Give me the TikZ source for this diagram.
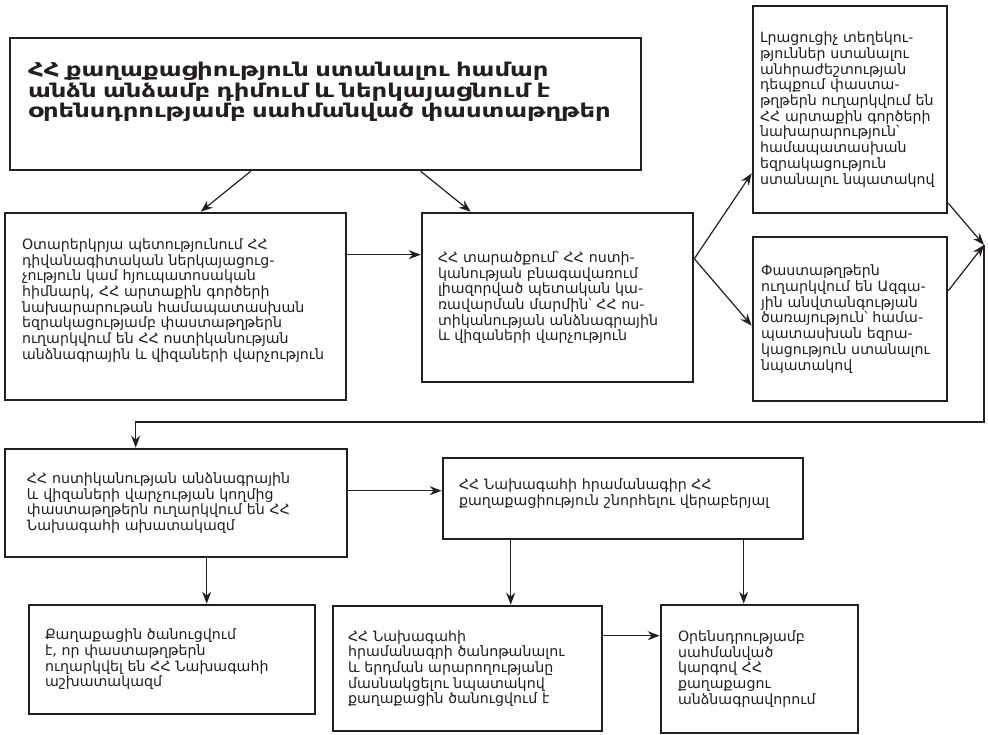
\documentclass[tikz,border=0pt]{standalone}
\usepackage{fontspec}
\setmainfont{DejaVu Sans}
\newfontfamily\titlefont{DejaVu Sans}[FakeStretch=1.28]
\usetikzlibrary{arrows.meta}
\definecolor{ink}{HTML}{231F20}
\begin{document}
\begin{tikzpicture}[x=1pt,y=-1pt,
    box/.style={draw=ink,text=ink,line width=2.6pt,align=left,inner ysep=0pt,
      font=\fontsize{14.2}{15.7}\selectfont},
    arr/.style={draw=ink,line width=1.2pt,-{Stealth[length=12pt,width=9pt]}}]
  \useasboundingbox (0,0) rectangle (988,735);

  \node[box,minimum width=631pt,minimum height=132pt,inner xsep=18pt,text width=595pt,
    font=\titlefont\fontsize{19}{20.8}\selectfont\bfseries] (apply) at (325.5,104)
    {ՀՀ քաղաքացիություն ստանալու համար\\
     անձն անձամբ դիմում և ներկայացնում է\\
     օրենսդրությամբ սահմանված փաստաթղթեր\par\vspace{24pt}};
  \node[box,minimum width=341pt,minimum height=187pt,inner xsep=17pt,text width=307pt] (foreign) at (175.5,306.5)
    {Օտարերկրյա պետությունում ՀՀ\\
     դիվանագիտական ներկայացուց-\\
     չություն կամ հյուպատոսական\\
     հիմնարկ, ՀՀ արտաքին գործերի\\
     նախարարութան համապատասխան\\
     եզրակացությամբ փաստաթղթերն\\
     ուղարկվում են ՀՀ ոստիկանության\\
     անձնագրային և վիզաների վարչություն\par\vspace{12pt}};
  \node[box,minimum width=271pt,minimum height=169pt,inner xsep=16pt,text width=239pt] (local) at (557.5,297.5)
    {ՀՀ տարածքում՝ ՀՀ ոստի-\\
     կանության բնագավառում\\
     լիազորված պետական կա-\\
     ռավարման մարմին՝ ՀՀ ոս-\\
     տիկանության անձնագրային\\
     և վիզաների վարչություն};
  \node[box,minimum width=194pt,minimum height=207pt,inner xsep=7pt,text width=180pt] (ministry) at (850,109.5)
    {Լրացուցիչ տեղեկու-\\
     թյուններ ստանալու\\
     անհրաժեշտության\\
     դեպքում փաստա-\\
     թղթերն ուղարկվում են\\
     ՀՀ արտաքին գործերի\\
     նախարարություն՝\\
     համապատասխան\\
     եզրակացություն\\
     ստանալու նպատակով};
  \node[box,minimum width=194pt,minimum height=164pt,inner xsep=8pt,text width=178pt] (security) at (850,319)
    {Փաստաթղթերն\\
     ուղարկվում են Ազգա-\\
     յին անվտանգության\\
     ծառայություն՝ համա-\\
     պատասխան եզրա-\\
     կացություն ստանալու\\
     նպատակով};
  \node[box,minimum width=342pt,minimum height=108pt,inner xsep=22pt,text width=298pt] (police) at (176,503)
    {ՀՀ ոստիկանության անձնագրային\\
     և վիզաների վարչության կողմից\\
     փաստաթղթերն ուղարկվում են ՀՀ\\
     Նախագահի ախատակազմ};
  \node[box,minimum width=360pt,minimum height=81pt,inner xsep=16pt,text width=328pt] (decree) at (623,498.5)
    {ՀՀ Նախագահի հրամանագիր ՀՀ\\
     քաղաքացիություն շնորհելու վերաբերյալ\par\vspace{10pt}};
  \node[box,minimum width=286pt,minimum height=109pt,inner xsep=16pt,text width=254pt] (notice) at (172,659.5)
    {Քաղաքացին ծանուցվում\\
     է, որ փաստաթղթերն\\
     ուղարկվել են ՀՀ Նախագահի\\
     աշխատակազմ};
  \node[box,minimum width=269pt,minimum height=125pt,inner xsep=15pt,text width=239pt] (oath) at (467.5,668.5)
    {ՀՀ Նախագահի\\
     հրամանագրի ծանոթանալու\\
     և երդման արարողությանը\\
     մասնակցելու նպատակով\\
     քաղաքացին ծանուցվում է};
  \node[box,minimum width=197pt,minimum height=128pt,inner xsep=17pt,text width=163pt] (passport) at (759.5,669)
    {Օրենսդրությամբ\\
     սահմանված\\
     կարգով ՀՀ\\
     քաղաքացու\\
     անձնագրավորում};

  \coordinate (fork) at ([yshift=-47pt]local.north east);
  \coordinate (join) at (984,245);

  \draw[arr] ([xshift=242pt]apply.south west) -- ([xshift=197pt]foreign.north west);
  \draw[arr] ([xshift=412pt]apply.south west) -- ([xshift=50pt]local.north west);
  \draw[arr] ([yshift=-43pt]foreign.north east) coordinate (f1) -- (f1 -| local.west);
  \draw[arr] (fork) -- ([yshift=41pt]ministry.south west);
  \draw[arr] (fork) -- ([yshift=-90pt]security.north west);
  \draw[arr] ([yshift=11pt]ministry.south east) -- (join);
  \draw[arr] ([yshift=-55pt]security.north east) -- (join);
  \draw[arr] (join) -- ++(0,177) -| ([xshift=132pt]police.north west);
  \draw[arr] ([yshift=-43pt]police.north east) coordinate (p1) -- (p1 -| decree.west);
  \draw[arr] ([xshift=203pt]police.south west) coordinate (p2) -- (p2 |- notice.north);
  \draw[arr] ([xshift=69pt]decree.south west) coordinate (d1) -- (d1 |- oath.north);
  \draw[arr] ([xshift=302pt]decree.south west) coordinate (d2) -- (d2 |- passport.north);
  \draw[arr] ([yshift=-31pt]oath.north east) coordinate (o1) -- (o1 -| passport.west);
\end{tikzpicture}
\end{document}
